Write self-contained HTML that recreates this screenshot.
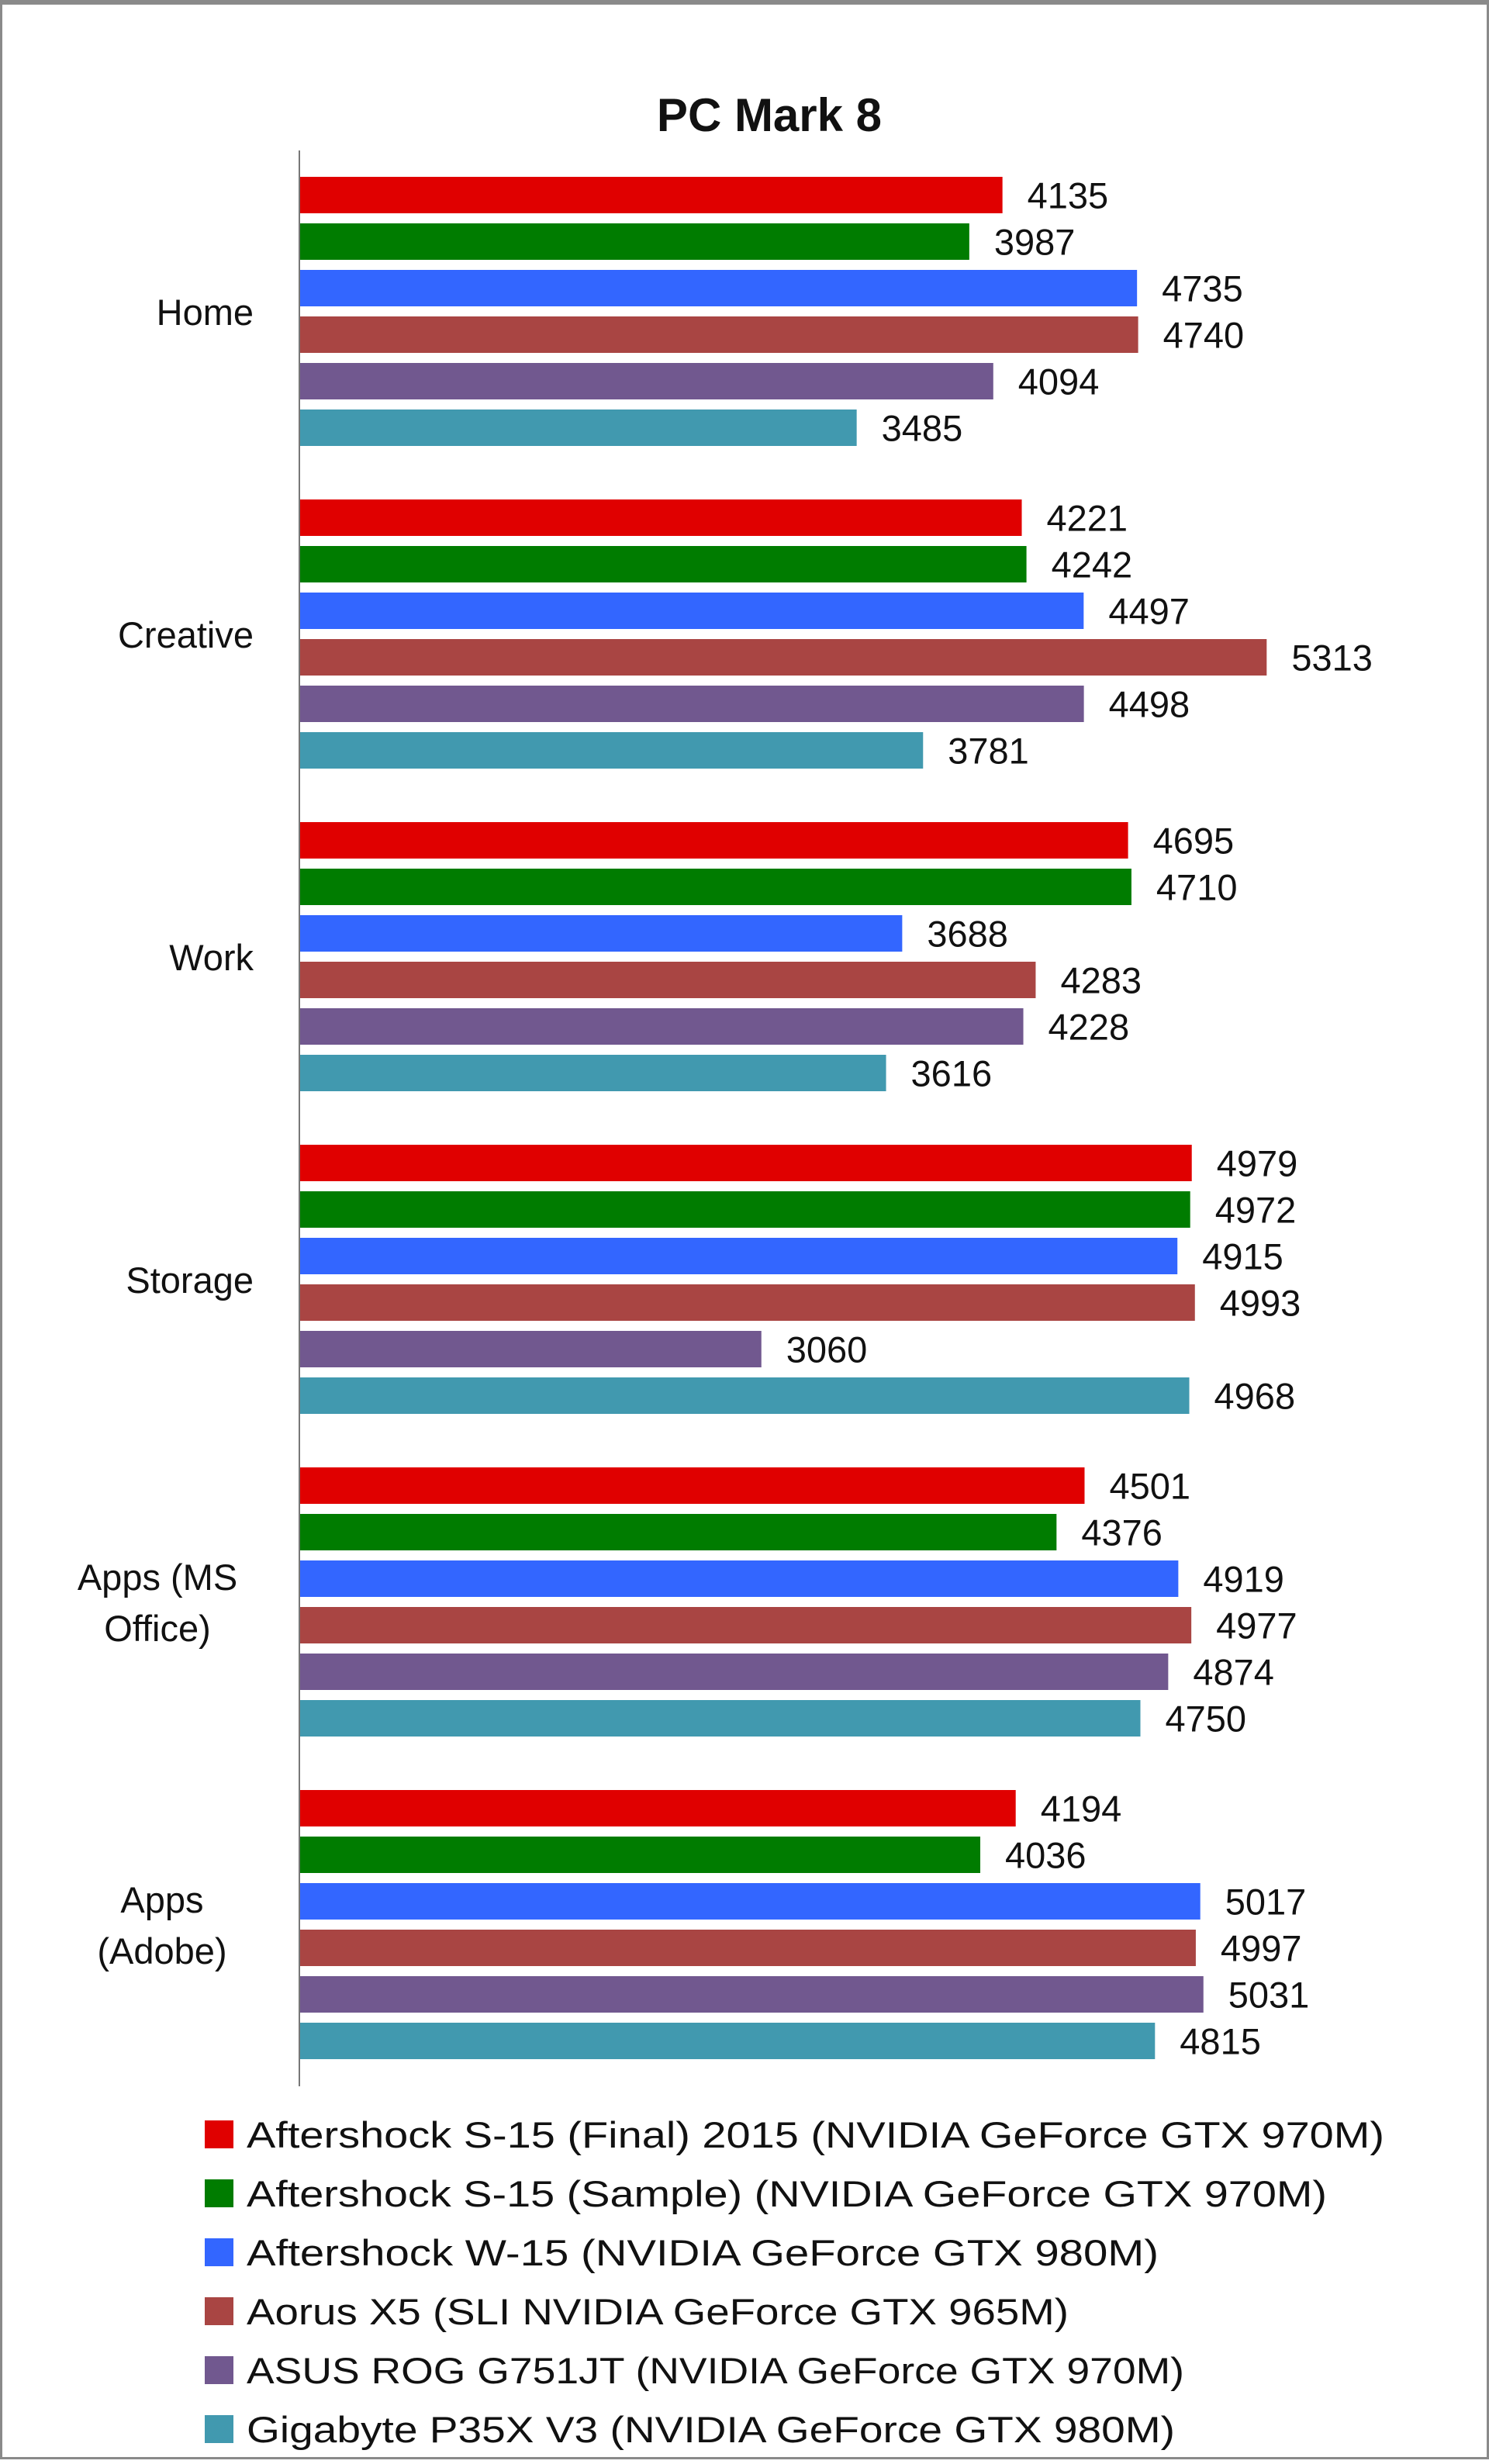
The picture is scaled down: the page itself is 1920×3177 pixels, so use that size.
<!DOCTYPE html>
<html><head><meta charset="utf-8"><style>
html,body{margin:0;padding:0;background:#fff}
#wrap{position:relative;width:1920px;height:3171px;box-sizing:border-box;border:3px solid #8a8a8a;border-top-width:6px;background:#fff}
svg{position:absolute;left:0;top:0}
text{font-family:"Liberation Sans",sans-serif;fill:#111}
</style></head><body>
<div id="wrap">
<svg id="chart" width="1920" height="3171" viewBox="0 0 1920 3171"></svg>
</div>
<script>
const categories = ["Home","Creative","Work","Storage","Apps (MS Office)","Apps (Adobe)"];
const seriesNames = [
 "Aftershock S-15 (Final) 2015 (NVIDIA GeForce GTX 970M)",
 "Aftershock S-15 (Sample) (NVIDIA GeForce GTX 970M)",
 "Aftershock W-15 (NVIDIA GeForce GTX 980M)",
 "Aorus X5 (SLI NVIDIA GeForce GTX 965M)",
 "ASUS ROG G751JT (NVIDIA GeForce GTX 970M)",
 "Gigabyte P35X V3 (NVIDIA GeForce GTX 980M)"
];
const finalS15  = [4135,4221,4695,4979,4501,4194];
const sampleS15 = [3987,4242,4710,4972,4376,4036];
const w15       = [4735,4497,3688,4915,4919,5017];
const aorusX5   = [4740,5313,4283,4993,4977,4997];
const asusRog   = [4094,4498,4228,3060,4874,5031];
const gigabyte  = [3485,3781,3616,4968,4750,4815];
const series = [finalS15,sampleS15,w15,aorusX5,asusRog,gigabyte];
const colors = ["#e00000","#007c00","#3366ff","#a94543","#71588f","#4199af"];
const axisMin = 1000, axisMax = 6000;

const NS="http://www.w3.org/2000/svg";
const svg=document.getElementById('chart');
function mk(tag,attrs,parent){const e=document.createElementNS(NS,tag);for(const k in attrs)e.setAttribute(k,attrs[k]);(parent||svg).appendChild(e);return e;}
const plotX0=383, plotX1=1829, plotY0=188, plotY1=2684;
const xScale=v=>plotX0+(v-axisMin)/(axisMax-axisMin)*(plotX1-plotX0);
const band=(plotY1-plotY0)/categories.length;
const barPitch=60, barH=47, barOff=34;

const title=mk('text',{x:989,y:163,'text-anchor':'middle','font-size':60,'font-weight':'bold'});
title.textContent="PC Mark 8";



categories.forEach((c,ci)=>{
  const y0=plotY0+ci*band;
  series.forEach((s,si)=>{
    const y=y0+barOff+si*barPitch;
    const r=mk('rect',{x:plotX0,y:y,width:xScale(s[ci])-plotX0,height:barH,fill:colors[si]});
    
    
    const t=mk('text',{x:xScale(s[ci])+32,y:y+barH/2+17,'font-size':47});
    t.textContent=s[ci];
    
    
  });
  const cy=y0+band/2;
  let lines=[c];
  if(c==="Apps (MS Office)") lines=["Apps (MS","Office)"];
  if(c==="Apps (Adobe)") lines=["Apps","(Adobe)"];
  let g;
  if(lines.length===1){
    g=mk('text',{x:324,y:cy+17,'text-anchor':'end','font-size':47});
    g.textContent=lines[0];
  } else {
    const cx = c==="Apps (Adobe)"?206:200;
    g=mk('text',{x:cx,y:cy,'text-anchor':'middle','font-size':47});
    lines.forEach((l,li)=>{const ts=mk('tspan',{x:cx,y:cy-33+li*66+17},g);ts.textContent=l;});
  }
  
  
});

const axis=mk('line',{x1:plotX0,y1:plotY0,x2:plotX0,y2:plotY1,stroke:'#777','stroke-width':2});



const legendEnds=[1782,1708,1491,1375,1524,1512];
seriesNames.forEach((n,i)=>{
  const cy=2746+i*76;
  const sw=mk('rect',{x:261,y:cy-18,width:37,height:36,fill:colors[i]});
  
  
  const t=mk('text',{x:315,y:cy+17,'font-size':47,textLength:legendEnds[i]-315,lengthAdjust:'spacingAndGlyphs'});
  t.textContent=n;
  
  
});
</script>
</body></html>
